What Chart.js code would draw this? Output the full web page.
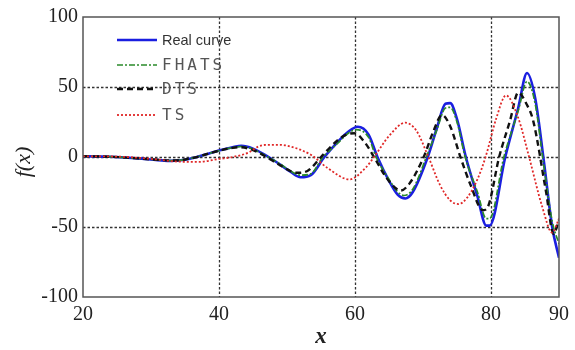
<!DOCTYPE html>
<html>
<head>
<meta charset="utf-8">
<script src="https://cdn.jsdelivr.net/npm/chart.js@4"></script>
<style>
  html, body { margin: 0; padding: 0; background: #fff; }
  #chart { display: block; }
</style>
</head>
<body>
<canvas id="chart" width="575" height="350"></canvas>
<script>
// values
const seriesLabels = ['Real curve', 'FHATS', 'DTS', 'TS'];

const realX = [20, 24, 28, 31, 33, 35, 36.5, 38, 40, 42, 43.3, 45, 47.3, 49, 50.5, 52, 53.5, 55.5, 57.5, 59, 60.4, 62, 63.3, 65, 66.3, 67.4, 68.5, 70.7, 72, 73.3, 74, 75, 76.3, 78, 79.3, 79.8, 82.1, 84, 85.3, 86.5, 87.8, 89, 90];
const realY = [0.5, 0.2, -1, -2.2, -2.8, -2, -0.3, 1.8, 4.7, 7, 8, 6, 0, -5.5, -10.5, -14.5, -13, 0, 11, 18, 21.6, 16, 0, -17, -27, -29.6, -25, 0, 20, 38, 38.5, 27, 0, -28, -49, -49, 0, 35, 60, 42, -4, -50, -72];

const fhatsX = [20, 24, 28, 31, 33, 35, 36.5, 38, 40, 42, 43.3, 45, 47.2, 49, 50.5, 52, 53.5, 55.3, 57.5, 59, 60.2, 62, 63.1, 65, 66.3, 67.2, 68.5, 70.5, 72, 73.3, 74, 75, 76.2, 78, 79.3, 79.8, 81.9, 84, 85.3, 86.5, 87.7, 89, 90];
const fhatsY = [0.5, 0.2, -1, -2, -2.6, -1.9, -0.3, 1.8, 4.5, 6.7, 7.5, 5.5, 0, -5, -10, -13, -12, 0, 10, 17, 19.5, 14, 0, -16, -25, -27.5, -23, 0, 19, 35, 35.5, 25, 0, -25, -44, -44, 0, 33, 54, 38, -4, -46, -62];

const dtsX = [20, 24, 28, 31, 33, 35, 36.5, 38, 40, 42, 43, 45, 47, 49, 51.5, 53, 55, 57, 58.5, 59.9, 61.5, 62.8, 64.5, 65.8, 66.7, 68, 70.1, 71.5, 72.8, 74, 75.5, 77, 78.8, 79.5, 81.2, 82.8, 84, 85.2, 86.2, 88.1, 89.2, 90];
const dtsY = [0.5, 0.2, -1, -2, -2.5, -1.8, -0.3, 1.8, 4.5, 6.5, 7, 5, 0, -6, -11.3, -10, 0, 10, 15.5, 17, 10, 0, -14, -21.5, -24, -19, 0, 18, 30, 22, 0, -20, -38, -36, 0, 26, 46, 38, 26, -25, -55, -45];

const tsX = [20, 25, 28, 31, 34, 37, 40, 42, 44.4, 45.8, 47, 49, 50.5, 53.5, 56, 59.2, 61.5, 62.8, 65, 67.4, 69, 70.8, 72.5, 74, 75.2, 76.5, 78, 79.2, 80.8, 82.2, 84, 85.6, 87.5, 89, 90];
const tsY = [0.5, 0.3, -0.5, -1.8, -3.3, -3.5, -1.4, 0, 3.3, 7.5, 8.7, 8.7, 7.5, 1.6, -8, -16, -8, 0, 15, 24.5, 19, 0, -20, -31, -33.6, -29, -16, 0, 28, 44, 28, 0, -35, -54, -44];

const xTicks = [20, 40, 60, 80, 90];
const yTicks = [-100, -50, 0, 50, 100];
const xGrid = [40, 60, 80];
const yGrid = [-50, 0, 50];

function pts(xs, ys) {
    return xs.map((x, i) => ({ x: x, y: ys[i] }));
}

// dotted grid drawn through the chart's own scales
const dottedGrid = {
    id: 'dottedGrid',
    beforeDatasetsDraw(chart) {
        const ctx = chart.ctx;
        const a = chart.chartArea;
        const sx = chart.scales.x, sy = chart.scales.y;
        ctx.save();
        ctx.strokeStyle = '#333';
        ctx.lineWidth = 1.3;
        ctx.setLineDash([2.5, 2]);
        xGrid.forEach(v => {
            const px = Math.round(sx.getPixelForValue(v)) + 0.5;
            ctx.beginPath();
            ctx.moveTo(px, a.top);
            ctx.lineTo(px, a.bottom);
            ctx.stroke();
        });
        yGrid.forEach(v => {
            const py = Math.round(sy.getPixelForValue(v)) + 0.5;
            ctx.beginPath();
            ctx.moveTo(a.left, py);
            ctx.lineTo(a.right, py);
            ctx.stroke();
        });
        ctx.restore();
    }
};

// frame, axis titles and the legend inside the plot
const extras = {
    id: 'extras',
    afterDraw(chart) {
        const ctx = chart.ctx;
        const a = chart.chartArea;
        ctx.save();
        ctx.strokeStyle = '#555';
        ctx.lineWidth = 1.5;
        ctx.setLineDash([]);
        ctx.strokeRect(a.left, a.top, a.right - a.left, a.bottom - a.top);

        // axis titles
        ctx.fillStyle = '#222';
        ctx.textAlign = 'center';
        ctx.textBaseline = 'middle';
        ctx.font = 'bold italic 23px "Liberation Serif"';
        ctx.fillText('x', (a.left + a.right) / 2, 337);
        ctx.save();
        ctx.translate(24, 162);
        ctx.rotate(-Math.PI / 2);
        ctx.font = 'italic 22px "Liberation Serif"';
        ctx.fillText('f(x)', 0, 0);
        ctx.restore();

        // legend
        const rows = [40, 65, 89, 115];
        chart.data.datasets.forEach((ds, i) => {
            const y = rows[i];
            ctx.beginPath();
            ctx.strokeStyle = ds.borderColor;
            ctx.lineWidth = ds.borderWidth;
            ctx.setLineDash(ds.borderDash || []);
            ctx.moveTo(117, y);
            ctx.lineTo(157, y);
            ctx.stroke();
            ctx.setLineDash([]);
            ctx.textAlign = 'left';
            if (i === 0) {
                ctx.font = '14.5px "Liberation Sans"';
                ctx.fillStyle = '#333';
                ctx.letterSpacing = '0px';
            } else {
                ctx.font = '16px "DejaVu Sans Mono"';
                ctx.fillStyle = '#555';
                ctx.letterSpacing = '3px';
            }
            ctx.fillText(ds.label, 162, y + 1);
        });
        ctx.restore();
    }
};

const ctx = document.getElementById('chart').getContext('2d');
new Chart(ctx, {
    type: 'line',
    data: {
        datasets: [
            { label: seriesLabels[0], data: pts(realX, realY), borderColor: '#1a1ee0', borderWidth: 2.6, order: 4 },
            { label: seriesLabels[1], data: pts(fhatsX, fhatsY), borderColor: '#2a8a2a', borderWidth: 1.7, borderDash: [6, 2, 2, 2], order: 3 },
            { label: seriesLabels[2], data: pts(dtsX, dtsY), borderColor: '#111', borderWidth: 2.4, borderDash: [6, 4], order: 2 },
            { label: seriesLabels[3], data: pts(tsX, tsY), borderColor: '#e02828', borderWidth: 1.8, borderDash: [2, 2], order: 1 }
        ]
    },
    options: {
        responsive: false,
        animation: false,
        events: [],
        layout: { padding: { top: 13, right: 11, left: 0, bottom: 0 } },
        elements: {
            point: { radius: 0 },
            line: { cubicInterpolationMode: 'monotone', fill: false }
        },
        plugins: {
            legend: { display: false },
            tooltip: { enabled: false }
        },
        scales: {
            x: {
                type: 'linear',
                min: 20,
                max: 90,
                afterBuildTicks: s => { s.ticks = xTicks.map(v => ({ value: v })); },
                afterFit: s => { s.height = 53; },
                grid: { display: false, drawTicks: false },
                border: { display: false },
                ticks: {
                    padding: 6,
                    color: '#222',
                    font: { family: 'Liberation Serif', size: 20 },
                    maxRotation: 0
                }
            },
            y: {
                min: -100,
                max: 100,
                afterBuildTicks: s => { s.ticks = yTicks.map(v => ({ value: v })); },
                afterFit: s => { s.width = 83; },
                grid: { display: false, drawTicks: false },
                border: { display: false },
                ticks: {
                    padding: 5,
                    color: '#222',
                    font: { family: 'Liberation Serif', size: 20 }
                }
            }
        }
    },
    plugins: [dottedGrid, extras]
});
</script>
</body>
</html>
